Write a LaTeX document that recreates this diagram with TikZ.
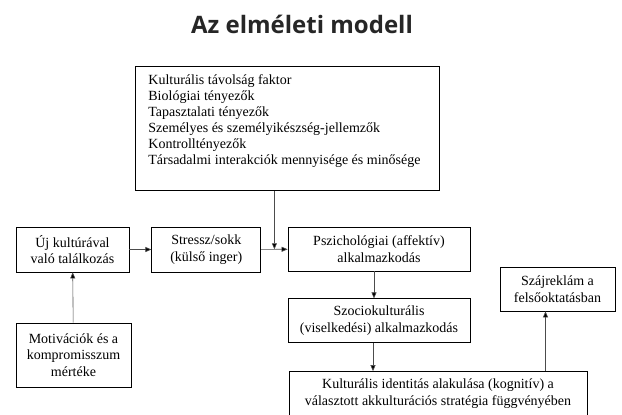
\documentclass[tikz,border=0pt]{standalone}
\usepackage{fontspec}
\setmainfont{Liberation Serif}
\newfontfamily\boxfont{Liberation Serif}
\newfontfamily\titlefont{Open Sans}
\usetikzlibrary{positioning, arrows.meta, calc}
\tikzset{
  box/.style={
    draw,
    rectangle,
    line width=0.8pt,
    inner sep=0pt,
    align=center,
    font=\boxfont\fontsize{14}{16.5}\selectfont
  },
  arr/.style={
    draw=black!70,
    line width=0.6pt,
    -{Triangle[length=6pt,width=5pt,fill=black]}
  }
}

\begin{document}
\begin{tikzpicture}[x=1pt, y=-1pt]
  \useasboundingbox (0,0) rectangle (622,415);

  \node[anchor=base, font=\titlefont\bfseries\fontsize{24}{28}\selectfont, text=black!85] (title) at (302,33) {Az elméleti modell};

  % Tényezők
  \node[box, anchor=north west, minimum width=304pt, minimum height=124pt] (factors) at (135,66)
    {\parbox[c][124pt][t]{296pt}{\raggedright\boxfont\fontsize{14}{16}\selectfont\vspace*{8pt}%
      \hspace*{9pt}Kulturális távolság faktor\\
      \hspace*{9pt}Biológiai tényezők\\
      \hspace*{9pt}Tapasztalati tényezők\\
      \hspace*{9pt}Személyes és személyikészség-jellemzők\\
      \hspace*{9pt}Kontrolltényezők\\
      \hspace*{9pt}Társadalmi interakciók mennyisége és minősége}};

  \node[box, minimum width=113pt, minimum height=45pt] (uj) at (72.5,249.5) {Új kultúrával\\való találkozás};
  \node[box, minimum width=109pt, minimum height=45pt, right=22pt of uj] (stressz) {Stressz/sokk\\(külső inger)};
  \node[box, minimum width=182pt, minimum height=44pt] (pszich) at (379,249) {Pszichológiai (affektív)\\alkalmazkodás};
  \node[box, minimum width=115pt, minimum height=64pt] (motiv) at (73.5,355) {Motivációk és a\\kompromisszum\\mértéke};
  \node[box, minimum width=182pt, minimum height=44pt, below=27pt of pszich] (szocio) {Szociokulturális\\(viselkedési) alkalmazkodás};
  \node[box, minimum width=298pt, minimum height=44pt] (kult) at (438,393.5) {Kulturális identitás alakulása (kognitív) a\\választott akkulturációs stratégia függvényében};
  \node[box, minimum width=115pt, minimum height=44pt] (szaj) at (557.5,289) {Szájreklám a\\felsőoktatásban};

  \coordinate (join) at ($(stressz.east)!0.5!(pszich.west)$);
  \coordinate (szin) at ([xshift=-12pt]szaj.south);

  % Nyilak
  \draw[arr] (uj) -- (stressz);
  \draw[arr] (stressz) -- (pszich);
  \draw[arr] (factors.south -| join) -- (join);
  \draw[arr] (motiv) -- (uj);
  \draw[arr] ([xshift=-5pt]pszich.south) -- ([xshift=-5pt]szocio.north);
  \draw[arr] ([xshift=-6pt]szocio.south) -- ([xshift=-6pt]szocio.south |- kult.north);
  \draw[arr] (szin |- kult.north) -- (szin);
\end{tikzpicture}
\end{document}
